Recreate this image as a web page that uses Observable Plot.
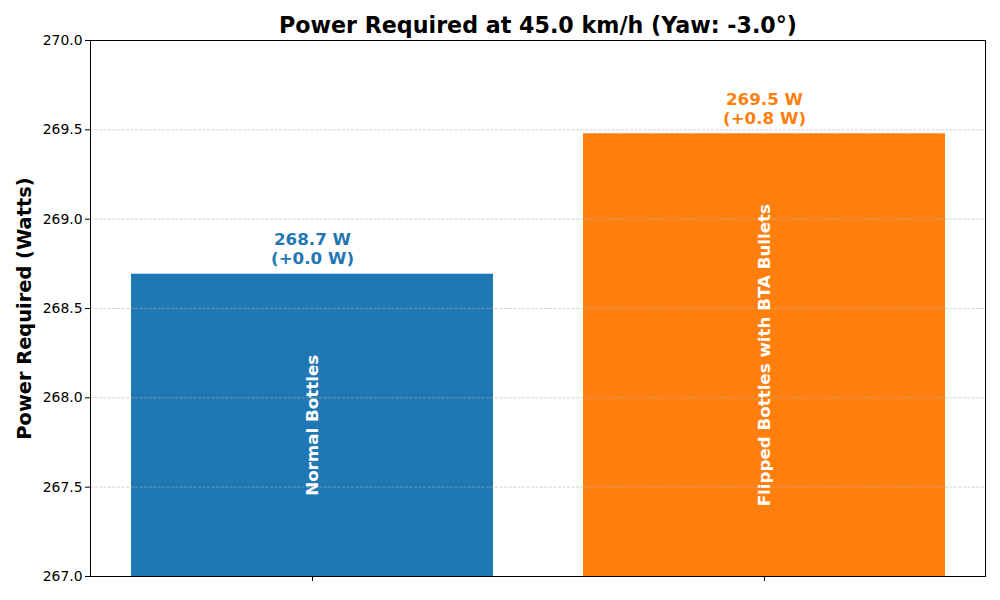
<!DOCTYPE html>
<html>
<head>
<meta charset="utf-8">
<script src="https://cdn.jsdelivr.net/npm/d3@7"></script>
<script src="https://cdn.jsdelivr.net/npm/@observablehq/plot@0.6"></script>
<style>
  html, body { margin: 0; padding: 0; background: #fff; }
  svg { font-family: "DejaVu Sans", sans-serif; }
</style>
</head>
<body>
<div id="chart"></div>
<script>
const categories = ["Normal Bottles", "Flipped Bottles with BTA Bullets"];
const power = [268.692, 269.478];
const delta = [0.0, 0.8];
const barColors = ["#1f77b4", "#ff7f0e"];
const yDomain = [267.0, 270.0];
const yTicks = [267.0, 267.5, 268.0, 268.5, 269.0, 269.5, 270.0];
const titleText = "Power Required at 45.0 km/h (Yaw: -3.0°)";
const yLabel = "Power Required (Watts)";

const data = categories.map((c, i) => ({
  category: c,
  value: power[i],
  delta: delta[i],
  label: `${power[i].toFixed(1)} W\n(+${delta[i].toFixed(1)} W)`
}));

const chart = Plot.plot({
  width: 1000,
  height: 600,
  marginLeft: 90,
  marginRight: 15,
  marginTop: 40,
  marginBottom: 24,
  style: { fontFamily: "DejaVu Sans, sans-serif", background: "#fff" },
  x: { domain: categories, paddingInner: 0.2, paddingOuter: 0.09, axis: null },
  y: { domain: yDomain, axis: null },
  color: { domain: categories, range: barColors },
  marks: [
    Plot.barY(data, { x: "category", y1: yDomain[0], y2: "value", fill: "category" }),
    Plot.gridY(yTicks, { stroke: "#b0b0b0", strokeOpacity: 0.7, strokeWidth: 0.8, strokeDasharray: "3,1.5" }),
    Plot.frame({ stroke: "#000", strokeWidth: 1 }),
    Plot.axisY({ ticks: yTicks, tickFormat: d3.format(".1f"), tickSize: 5, tickPadding: 3, fontSize: 13.9, label: null, fill: "#000" }),
    Plot.axisX({ tickSize: 5, tickFormat: () => "", label: null }),
    Plot.text(data, {
      x: "category", y: "value", text: "label", fill: "category",
      fontSize: 16.7, fontWeight: "bold", lineAnchor: "bottom", lineHeight: 1.15, dy: -10
    }),
    Plot.text(data, {
      x: "category", y: d => (yDomain[0] + d.value) / 2, text: "category",
      fill: "#fff", fontSize: 16.7, fontWeight: "bold", rotate: -90, textAnchor: "middle", lineAnchor: "middle"
    }),
    Plot.text([titleText], { frameAnchor: "top", dy: -15, text: d => d, fontSize: 22.2, fontWeight: "bold", fill: "#000", textAnchor: "middle", lineAnchor: "middle" }),
    Plot.text([yLabel], { frameAnchor: "left", dx: -66, text: d => d, fontSize: 19.4, fontWeight: "bold", fill: "#000", rotate: -90, textAnchor: "middle", lineAnchor: "middle" })
  ]
});
document.getElementById("chart").appendChild(chart);
</script>
</body>
</html>
